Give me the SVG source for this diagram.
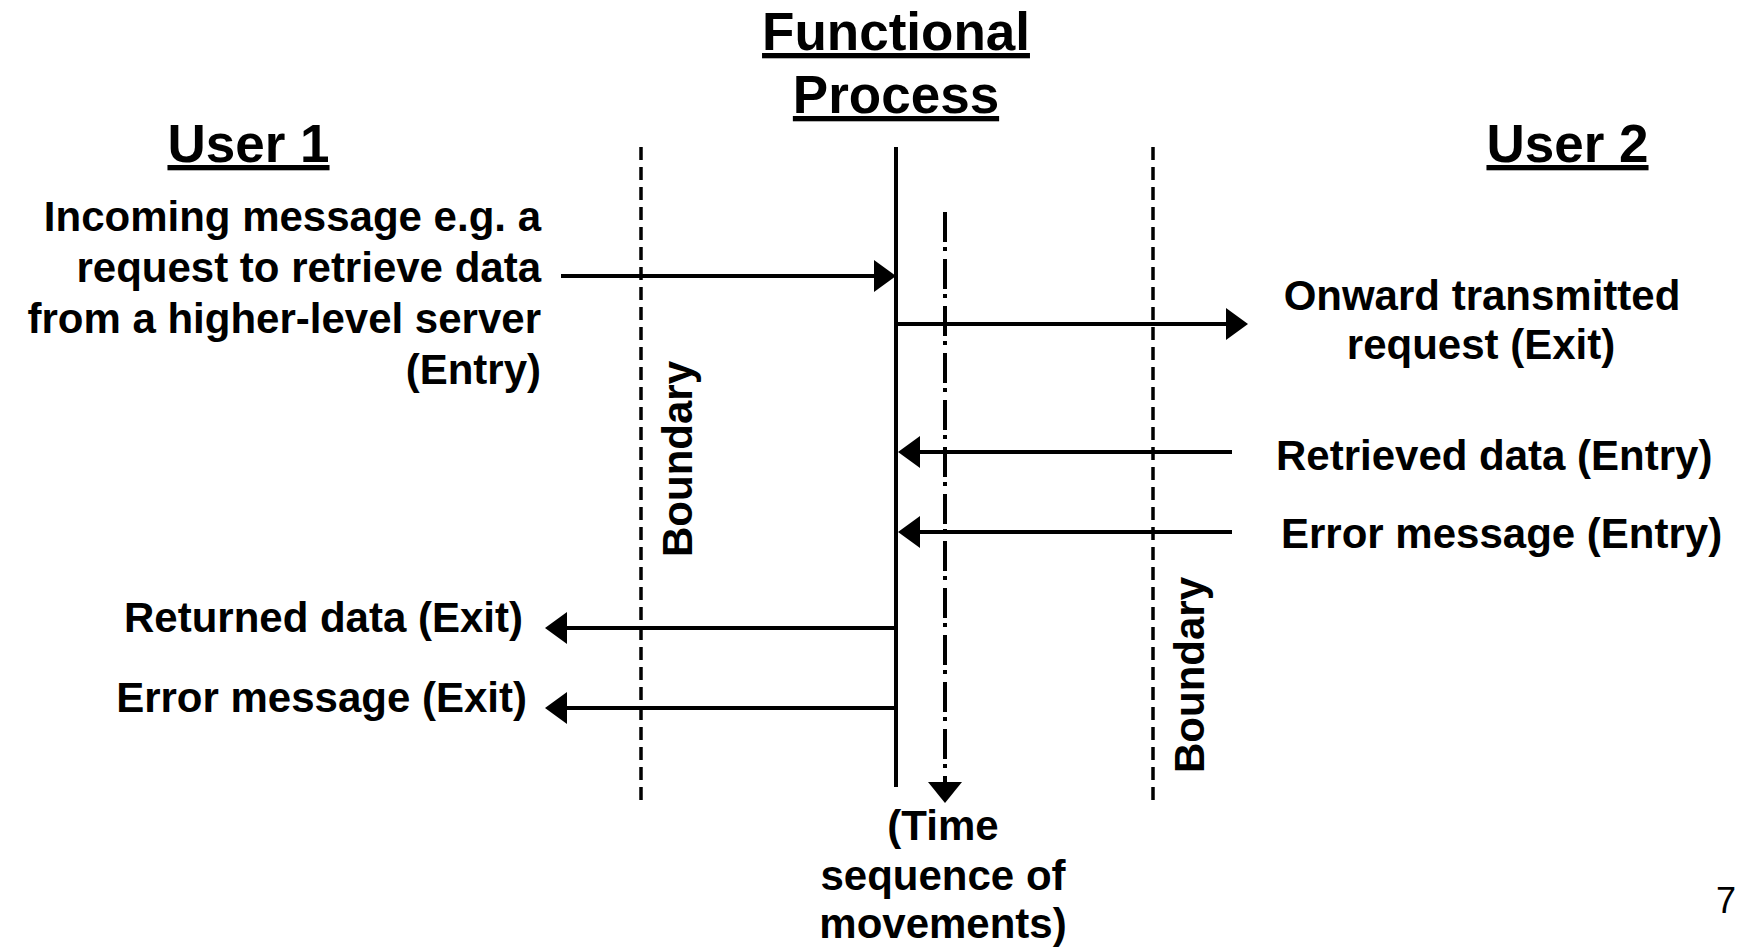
<svg xmlns="http://www.w3.org/2000/svg" width="1738" height="948" viewBox="0 0 1738 948">
  <style>
    text { font-family: "Liberation Sans", Arial, sans-serif; font-weight: bold; fill: #000; }
    .title { font-size: 53px; text-decoration: underline; text-anchor: middle; }
    .lbl { font-size: 42px; }
    .end { text-anchor: end; }
    .mid { text-anchor: middle; }
    .arrow { stroke: #000; stroke-width: 4; fill: none; marker-end: url(#ah); }
    .bound { stroke: #000; stroke-width: 3.5; stroke-dasharray: 13 7; fill: none; }
    .page { font-size: 36px; font-weight: normal; }
  </style>
  <defs>
    <marker id="ah" markerUnits="userSpaceOnUse" viewBox="0 0 22 32" markerWidth="22" markerHeight="32" refX="12" refY="16" orient="auto">
      <path d="M0,0 L22,16 L0,32 Z" fill="#000"/>
    </marker>
  </defs>
  <rect width="1738" height="948" fill="#fff"/>

  <g id="functional-process">
    <text class="title" x="896" y="50">Functional</text>
    <text class="title" x="896" y="113">Process</text>
    <line x1="896" y1="147" x2="896" y2="787" stroke="#000" stroke-width="4"/>
  </g>

  <g id="user1">
    <text class="title" x="248.5" y="162">User 1</text>
  </g>
  <g id="user2">
    <text class="title" x="1567.5" y="162">User 2</text>
  </g>

  <g id="boundary-left">
    <line class="bound" x1="641" y1="147" x2="641" y2="804"/>
    <text class="lbl mid" transform="translate(692,459) rotate(-90)">Boundary</text>
  </g>
  <g id="boundary-right">
    <line class="bound" x1="1153" y1="147" x2="1153" y2="804"/>
    <text class="lbl mid" transform="translate(1204,675) rotate(-90)">Boundary</text>
  </g>

  <g id="time-sequence">
    <text class="lbl mid" x="943" y="840">(Time</text>
    <text class="lbl mid" x="943" y="890">sequence of</text>
    <text class="lbl mid" x="943" y="938">movements)</text>
  </g>

  <g id="label-incoming">
    <text class="lbl end" x="541" y="231">Incoming message e.g. a</text>
    <text class="lbl end" x="541" y="282">request to retrieve data</text>
    <text class="lbl end" x="541" y="333">from a higher-level server</text>
    <text class="lbl end" x="541" y="384">(Entry)</text>
  </g>
  <g id="label-onward">
    <text class="lbl mid" x="1482" y="310">Onward transmitted</text>
    <text class="lbl mid" x="1481" y="359">request (Exit)</text>
  </g>
  <g id="label-retrieved">
    <text class="lbl" x="1276" y="470">Retrieved data (Entry)</text>
  </g>
  <g id="label-error-entry">
    <text class="lbl" x="1281" y="548">Error message (Entry)</text>
  </g>
  <g id="label-returned">
    <text class="lbl end" x="523" y="632">Returned data (Exit)</text>
  </g>
  <g id="label-error-exit">
    <text class="lbl end" x="527" y="712">Error message (Exit)</text>
  </g>

  <g id="page-number">
    <text class="page" x="1716" y="913">7</text>
  </g>

  <g id="connectors">
    <line class="arrow" x1="561" y1="276" x2="886" y2="276"/>
    <line class="arrow" x1="896" y1="324" x2="1238" y2="324"/>
    <line class="arrow" x1="1232" y1="452" x2="908" y2="452"/>
    <line class="arrow" x1="1232" y1="532" x2="908" y2="532"/>
    <line class="arrow" x1="896" y1="628" x2="555" y2="628"/>
    <line class="arrow" x1="896" y1="708" x2="555" y2="708"/>
    <line x1="945" y1="212" x2="945" y2="782" stroke="#000" stroke-width="4" stroke-dasharray="30 5 4 8"/>
    <path d="M928,782 L962,782 L945,803 Z" fill="#000"/>
  </g>
</svg>
